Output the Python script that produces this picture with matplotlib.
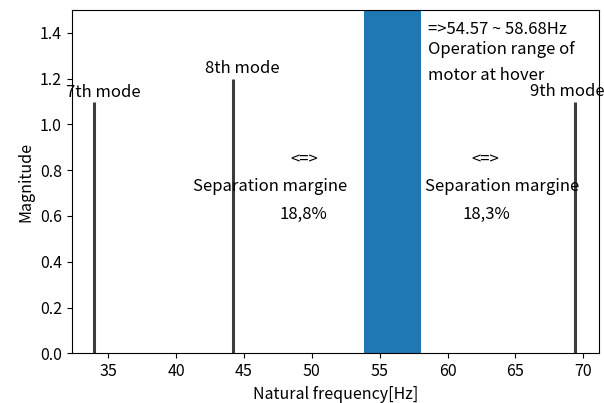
import matplotlib
matplotlib.use("Agg")
import matplotlib.pyplot as plt

plt.rcParams['font.family'] = ['Noto Sans CJK KR', 'DejaVu Sans']

# natural frequencies of the modes and their plotted magnitude
mode_labels = ['7th mode', '8th mode', '9th mode']
mode_freqs = [33.97, 44.21, 69.37]
mode_heights = [1.1, 1.2, 1.1]

# operation range of motor at hover (shaded band)
band_lo, band_hi = 53.86, 58.02

margin_values = ['18,8%', '18,3%']

fig = plt.figure(figsize=(6.04, 4.03), dpi=100)
ax = fig.add_axes([0.1187, 0.1233, 0.873, 0.852])

ax.axvspan(band_lo, band_hi, color='#1f77b4', lw=0)
ax.vlines(mode_freqs, 0, mode_heights, colors='#3c3c3c', linewidth=2.2)

fs = 12
# mode labels
ax.text(34.66, 1.141, mode_labels[0], ha='center', va='center', fontsize=fs)
ax.text(44.89, 1.246, mode_labels[1], ha='center', va='center', fontsize=fs)
ax.text(68.8, 1.142, mode_labels[2], ha='center', va='center', fontsize=fs)

# separation margin notes
ax.text(48.39, 0.844, '<=>', ha='left', va='center', fontsize=fs)
ax.text(41.24, 0.727, 'Separation margine', ha='left', va='center', fontsize=fs)
ax.text(47.65, 0.608, margin_values[0], ha='left', va='center', fontsize=fs)

ax.text(61.78, 0.844, '<=>', ha='left', va='center', fontsize=fs)
ax.text(58.34, 0.727, 'Separation margine', ha='left', va='center', fontsize=fs)
ax.text(61.07, 0.608, margin_values[1], ha='left', va='center', fontsize=fs)

# operation range note
ax.text(58.58, 1.416, '=>54.57 ~ 58.68Hz', ha='left', va='center', fontsize=fs)
ax.text(58.58, 1.327, 'Operation range of', ha='left', va='center', fontsize=fs)
ax.text(58.58, 1.215, 'motor at hover', ha='left', va='center', fontsize=fs)

ax.set_xlim(32.3, 71.16)
ax.set_ylim(0, 1.5)
ax.set_xticks([35, 40, 45, 50, 55, 60, 65, 70])
ax.set_yticks([0.0, 0.2, 0.4, 0.6, 0.8, 1.0, 1.2, 1.4])
ax.tick_params(labelsize=11.5)
ax.set_xlabel('Natural frequency[Hz]', fontsize=11.5)
ax.set_ylabel('Magnitude', fontsize=11.5)

fig.savefig('out.png', dpi=100)
